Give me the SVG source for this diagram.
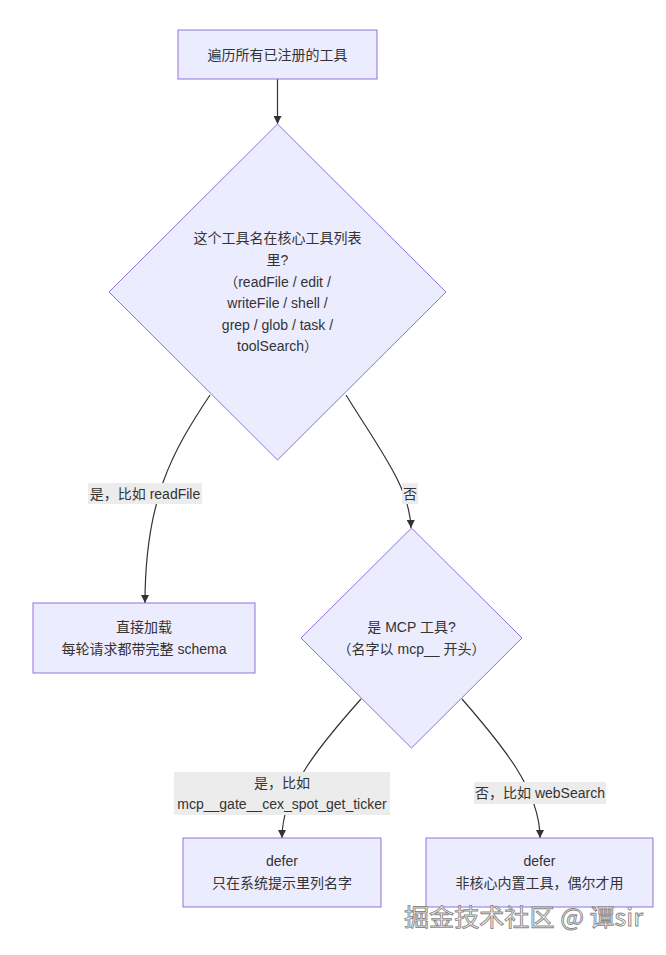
<svg xmlns="http://www.w3.org/2000/svg" width="666" height="955" viewBox="0 0 666 955">
<style>
  .node { fill: #ECECFF; stroke: #9370DB; stroke-width: 1; }
  .t { font-family: "Liberation Sans", "Noto Sans CJK SC", sans-serif; font-size: 14px; fill: #333333; text-anchor: middle; }
  .edge { fill: none; stroke: #333333; stroke-width: 1.2; }
  .lbg { fill: #ececec; }
  .wm { font-family: "Noto Sans CJK SC", "Liberation Sans", sans-serif; font-size: 24px; fill: #ffffff; stroke: #8a8a8a; stroke-width: 0.9; }
</style>
<defs>
  <marker id="arrow" viewBox="0 0 10 10" refX="10" refY="5" markerWidth="8" markerHeight="8" markerUnits="userSpaceOnUse" orient="auto">
    <path d="M0,0 L10,5 L0,10 z" fill="#333333"/>
  </marker>
</defs>
<rect width="666" height="955" fill="#ffffff"/>

<g id="edges">
  <path class="edge" d="M277.5,79 L277.5,124" marker-end="url(#arrow)"/>
  <path class="edge" d="M210,395 C172,452 145,500 145,603" marker-end="url(#arrow)"/>
  <path class="edge" d="M346,395 C380,450 410,488 411,528" marker-end="url(#arrow)"/>
  <path class="edge" d="M361,699 C320,745 282,790 282,838" marker-end="url(#arrow)"/>
  <path class="edge" d="M462,699 C502,745 540,790 540,838" marker-end="url(#arrow)"/>
</g>

<g id="edge-labels">
  <rect class="lbg" x="88" y="483" width="114" height="21"/>
  <text class="t" x="145" y="499">是，比如 readFile</text>
  <rect class="lbg" x="402" y="483" width="16" height="21"/>
  <text class="t" x="410" y="499">否</text>
  <rect class="lbg" x="174" y="772" width="216" height="43"/>
  <text class="t" x="282" y="788">是，比如</text>
  <text class="t" x="282" y="809">mcp__gate__cex_spot_get_ticker</text>
  <rect class="lbg" x="474" y="782" width="132" height="22"/>
  <text class="t" x="540" y="798">否，比如 webSearch</text>
</g>

<g id="start">
  <rect class="node" x="178" y="30" width="199" height="49"/>
  <text class="t" x="277.5" y="60">遍历所有已注册的工具</text>
</g>

<g id="core-check">
  <polygon class="node" points="277.5,124 446,292 277.5,460 109,292"/>
  <text class="t" x="277.5" y="243">这个工具名在核心工具列表</text>
  <text class="t" x="277.5" y="265">里?</text>
  <text class="t" x="277.5" y="287">（readFile / edit /</text>
  <text class="t" x="277.5" y="308">writeFile / shell /</text>
  <text class="t" x="277.5" y="330">grep / glob / task /</text>
  <text class="t" x="277.5" y="351">toolSearch）</text>
</g>

<g id="direct-load">
  <rect class="node" x="33" y="603" width="222" height="70"/>
  <text class="t" x="144" y="632">直接加载</text>
  <text class="t" x="144" y="654">每轮请求都带完整 schema</text>
</g>

<g id="mcp-check">
  <polygon class="node" points="411.5,528 522,638 411.5,748 301,638"/>
  <text class="t" x="411.5" y="632">是 MCP 工具?</text>
  <text class="t" x="411.5" y="654">（名字以 mcp__ 开头）</text>
</g>

<g id="defer-mcp">
  <rect class="node" x="183" y="838" width="198" height="69"/>
  <text class="t" x="282" y="866">defer</text>
  <text class="t" x="282" y="888">只在系统提示里列名字</text>
</g>

<g id="defer-builtin">
  <rect class="node" x="426" y="838" width="227" height="69"/>
  <text class="t" x="539.5" y="866">defer</text>
  <text class="t" x="539.5" y="888">非核心内置工具，偶尔才用</text>
</g>

<text class="wm" x="404" y="926" textLength="239" lengthAdjust="spacingAndGlyphs">掘金技术社区 @ 谭sir</text>
</svg>
